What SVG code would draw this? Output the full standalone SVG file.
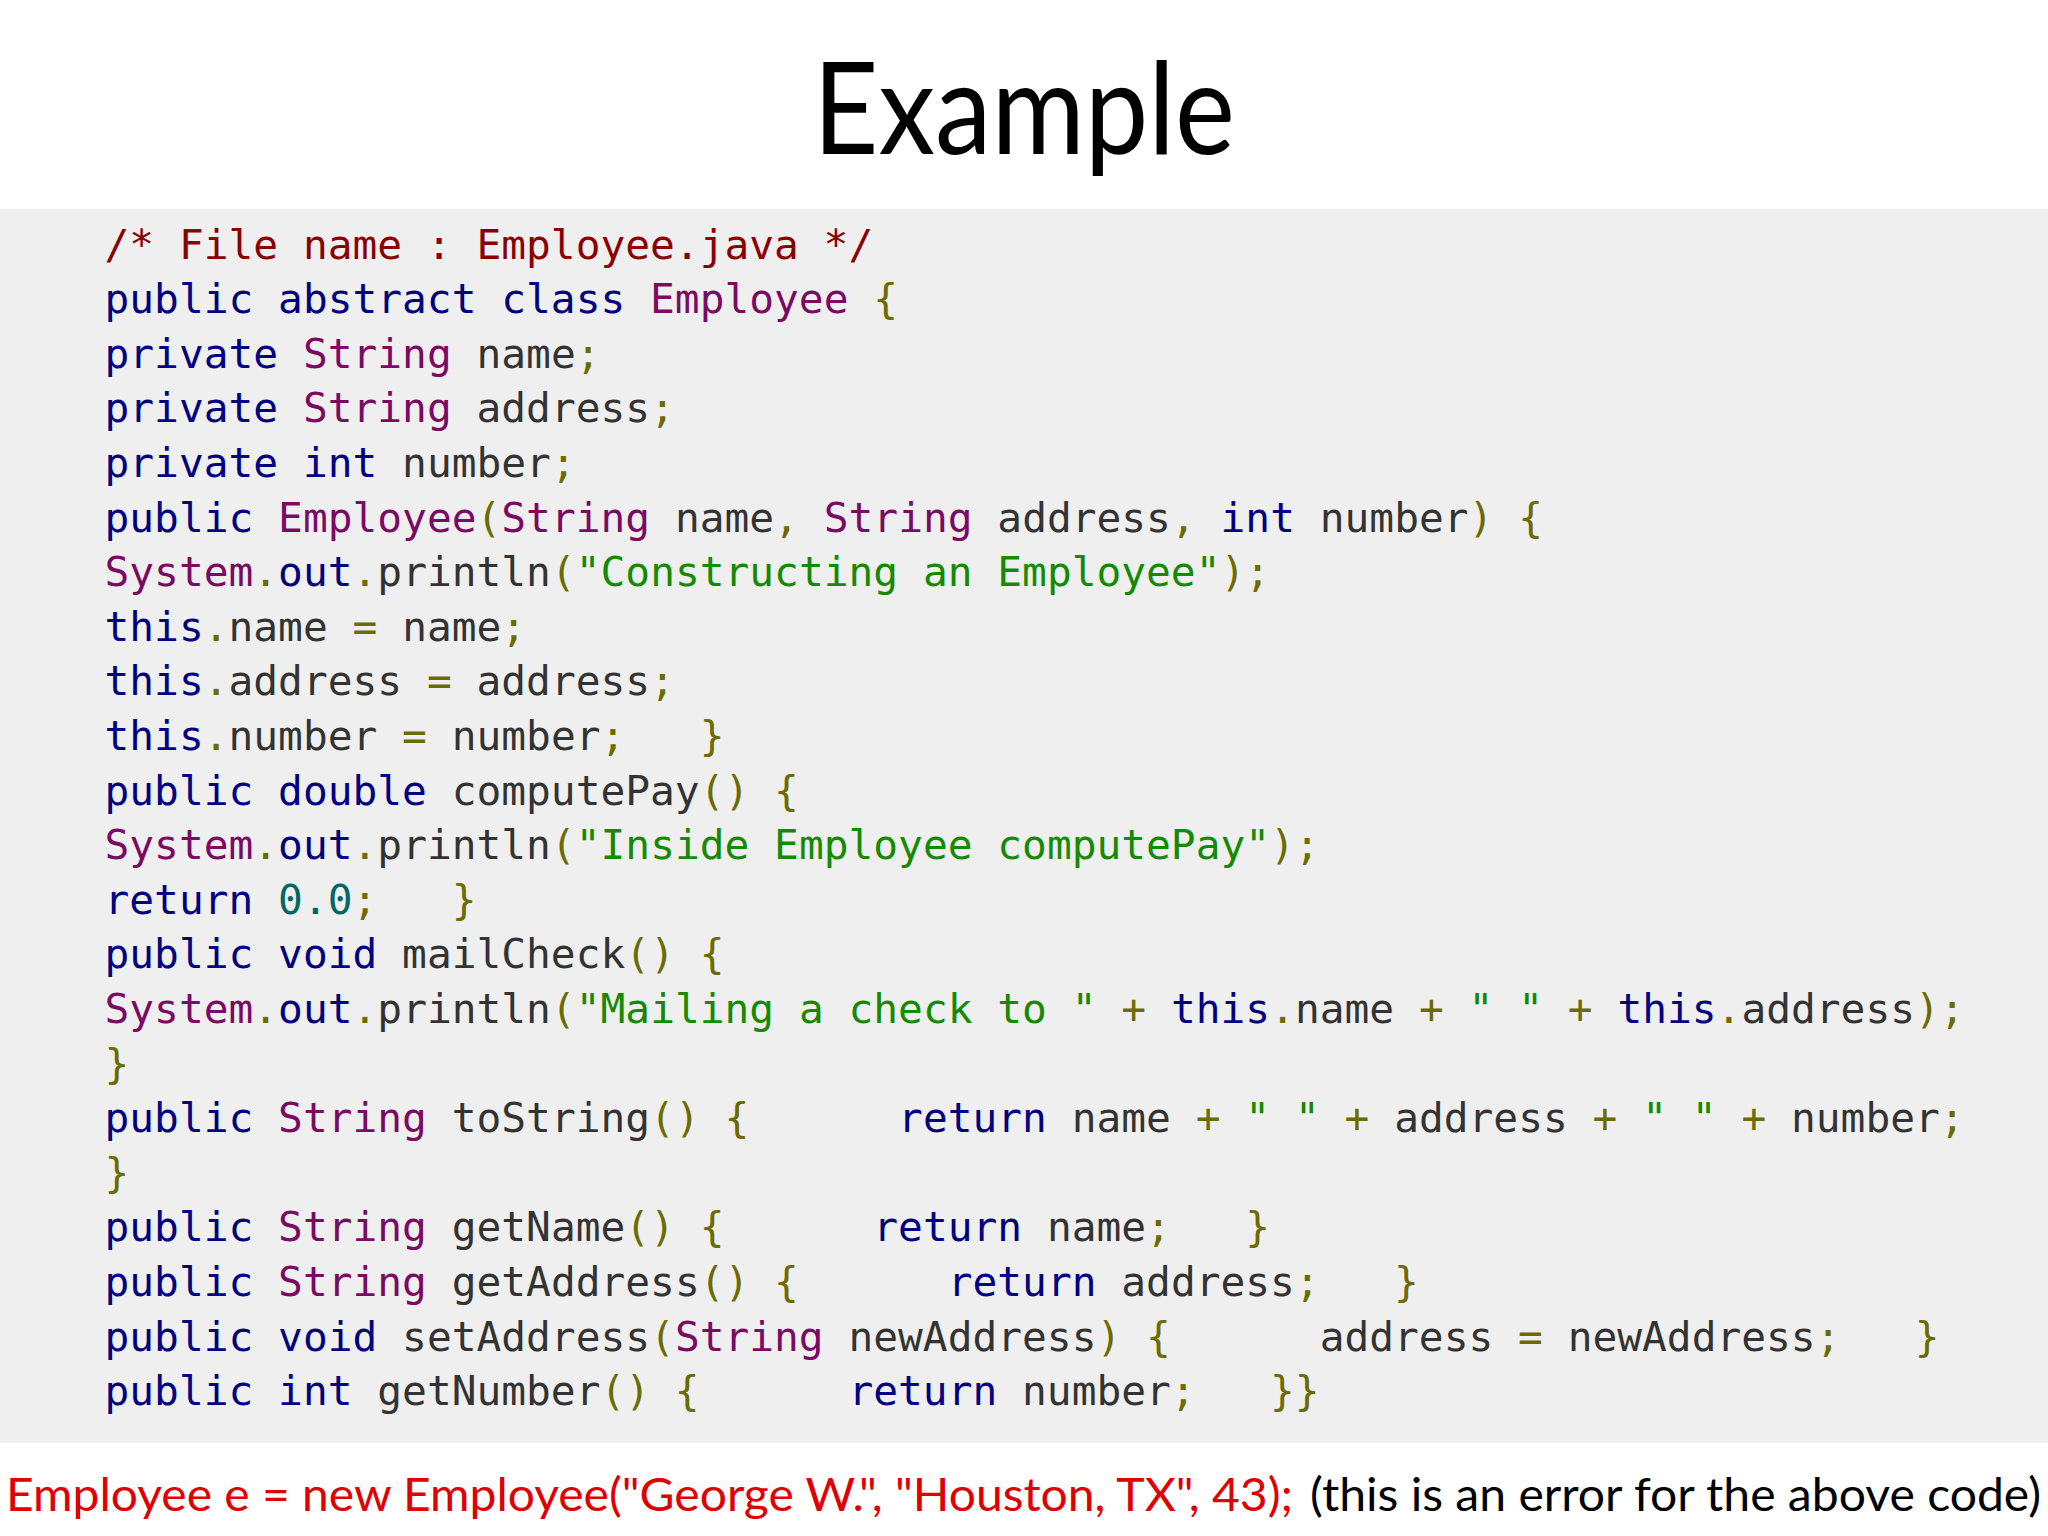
<svg xmlns="http://www.w3.org/2000/svg" width="2048" height="1536" viewBox="0 0 2048 1536">
<style>
.code{font-family:"DejaVu Sans Mono","Liberation Mono",monospace;font-size:41.2px;fill:#333333;white-space:pre}
.k{fill:#000080}.t{fill:#7a0a64}.c{fill:#8b0000}.p{fill:#6b6b00}.s{fill:#148a00}.n{fill:#006666}
.ui{font-family:Lato,"Noto Sans",sans-serif}
</style>
<rect width="2048" height="1536" fill="#ffffff"/>
<g id="title"><text class="ui" x="813" y="154" font-size="128" textLength="422" lengthAdjust="spacingAndGlyphs" fill="#000">Example</text></g>
<g id="code-panel">
<rect x="0" y="209" width="2048" height="1234" fill="#efefef"/>
<text class="code" xml:space="preserve" x="104.5" y="258.6"><tspan class="c">/* File name : Employee.java */</tspan></text>
<text class="code" xml:space="preserve" x="104.5" y="313.2"><tspan class="k">public abstract class</tspan> <tspan class="t">Employee</tspan> <tspan class="p">{</tspan></text>
<text class="code" xml:space="preserve" x="104.5" y="367.8"><tspan class="k">private</tspan> <tspan class="t">String</tspan> name<tspan class="p">;</tspan></text>
<text class="code" xml:space="preserve" x="104.5" y="422.4"><tspan class="k">private</tspan> <tspan class="t">String</tspan> address<tspan class="p">;</tspan></text>
<text class="code" xml:space="preserve" x="104.5" y="477.0"><tspan class="k">private int</tspan> number<tspan class="p">;</tspan></text>
<text class="code" xml:space="preserve" x="104.5" y="531.6"><tspan class="k">public</tspan> <tspan class="t">Employee</tspan><tspan class="p">(</tspan><tspan class="t">String</tspan> name<tspan class="p">,</tspan> <tspan class="t">String</tspan> address<tspan class="p">,</tspan> <tspan class="k">int</tspan> number<tspan class="p">) {</tspan></text>
<text class="code" xml:space="preserve" x="104.5" y="586.2"><tspan class="t">System</tspan><tspan class="p">.</tspan><tspan class="k">out</tspan><tspan class="p">.</tspan>println<tspan class="p">(</tspan><tspan class="s">"Constructing an Employee"</tspan><tspan class="p">);</tspan></text>
<text class="code" xml:space="preserve" x="104.5" y="640.8"><tspan class="k">this</tspan><tspan class="p">.</tspan>name <tspan class="p">=</tspan> name<tspan class="p">;</tspan></text>
<text class="code" xml:space="preserve" x="104.5" y="695.4"><tspan class="k">this</tspan><tspan class="p">.</tspan>address <tspan class="p">=</tspan> address<tspan class="p">;</tspan></text>
<text class="code" xml:space="preserve" x="104.5" y="750.0"><tspan class="k">this</tspan><tspan class="p">.</tspan>number <tspan class="p">=</tspan> number<tspan class="p">;   }</tspan></text>
<text class="code" xml:space="preserve" x="104.5" y="804.6"><tspan class="k">public double</tspan> computePay<tspan class="p">() {</tspan></text>
<text class="code" xml:space="preserve" x="104.5" y="859.2"><tspan class="t">System</tspan><tspan class="p">.</tspan><tspan class="k">out</tspan><tspan class="p">.</tspan>println<tspan class="p">(</tspan><tspan class="s">"Inside Employee computePay"</tspan><tspan class="p">);</tspan></text>
<text class="code" xml:space="preserve" x="104.5" y="913.8"><tspan class="k">return</tspan> <tspan class="n">0.0</tspan><tspan class="p">;   }</tspan></text>
<text class="code" xml:space="preserve" x="104.5" y="968.4"><tspan class="k">public void</tspan> mailCheck<tspan class="p">() {</tspan></text>
<text class="code" xml:space="preserve" x="104.5" y="1023.0"><tspan class="t">System</tspan><tspan class="p">.</tspan><tspan class="k">out</tspan><tspan class="p">.</tspan>println<tspan class="p">(</tspan><tspan class="s">"Mailing a check to "</tspan> <tspan class="p">+</tspan> <tspan class="k">this</tspan><tspan class="p">.</tspan>name <tspan class="p">+</tspan> <tspan class="s">" "</tspan> <tspan class="p">+</tspan> <tspan class="k">this</tspan><tspan class="p">.</tspan>address<tspan class="p">);</tspan></text>
<text class="code" xml:space="preserve" x="104.5" y="1077.6"><tspan class="p">}</tspan></text>
<text class="code" xml:space="preserve" x="104.5" y="1132.2"><tspan class="k">public</tspan> <tspan class="t">String</tspan> toString<tspan class="p">() {</tspan>      <tspan class="k">return</tspan> name <tspan class="p">+</tspan> <tspan class="s">" "</tspan> <tspan class="p">+</tspan> address <tspan class="p">+</tspan> <tspan class="s">" "</tspan> <tspan class="p">+</tspan> number<tspan class="p">;</tspan></text>
<text class="code" xml:space="preserve" x="104.5" y="1186.8"><tspan class="p">}</tspan></text>
<text class="code" xml:space="preserve" x="104.5" y="1241.4"><tspan class="k">public</tspan> <tspan class="t">String</tspan> getName<tspan class="p">() {</tspan>      <tspan class="k">return</tspan> name<tspan class="p">;   }</tspan></text>
<text class="code" xml:space="preserve" x="104.5" y="1296.0"><tspan class="k">public</tspan> <tspan class="t">String</tspan> getAddress<tspan class="p">() {</tspan>      <tspan class="k">return</tspan> address<tspan class="p">;   }</tspan></text>
<text class="code" xml:space="preserve" x="104.5" y="1350.6"><tspan class="k">public void</tspan> setAddress<tspan class="p">(</tspan><tspan class="t">String</tspan> newAddress<tspan class="p">) {</tspan>      address <tspan class="p">=</tspan> newAddress<tspan class="p">;   }</tspan></text>
<text class="code" xml:space="preserve" x="104.5" y="1405.2"><tspan class="k">public int</tspan> getNumber<tspan class="p">() {</tspan>      <tspan class="k">return</tspan> number<tspan class="p">;   }}</tspan></text>
</g>
<g id="footer">
<text class="ui" x="6" y="1511" font-size="47" fill="#e00000" textLength="1287" lengthAdjust="spacingAndGlyphs">Employee e = new Employee("George W.", "Houston, TX", 43);</text>
<text class="ui" x="1310" y="1511" font-size="47" fill="#000" textLength="731" lengthAdjust="spacingAndGlyphs">(this is an error for the above code)</text>
</g>
</svg>
